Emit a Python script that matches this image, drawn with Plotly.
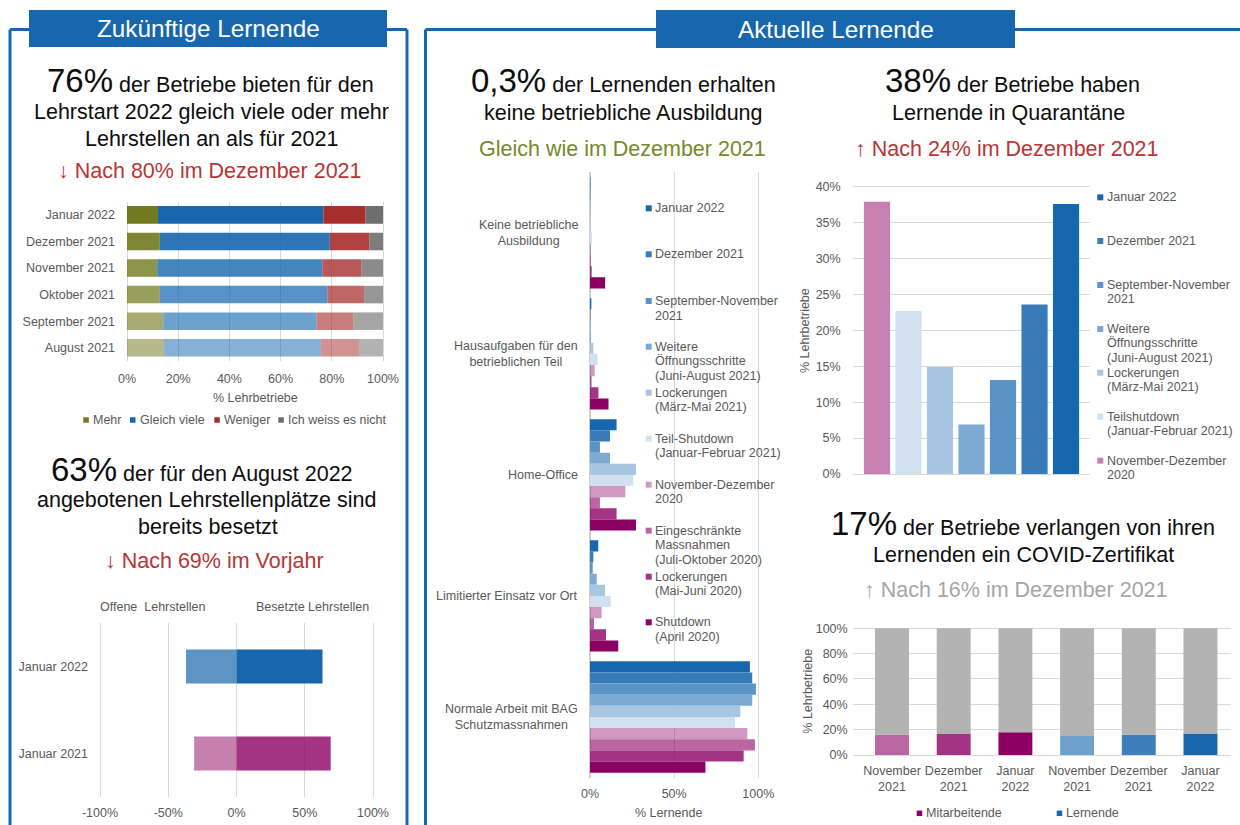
import plotly.graph_objects as go

# ======================= DATA =======================
# Zukünftige Lernende: Lehrstellenangebot 2022 im Vergleich zu 2021 (% Lehrbetriebe)
months1 = ["Januar 2022", "Dezember 2021", "November 2021",
           "Oktober 2021", "September 2021", "August 2021"]
answers1 = ["Mehr", "Gleich viele", "Weniger", "Ich weiss es nicht"]
mehr = [12.1, 12.8, 11.8, 12.8, 14.2, 14.5]
gleich_viele = [64.6, 66.4, 64.5, 65.5, 59.8, 61.2]
weniger = [16.5, 15.5, 15.2, 14.3, 14.5, 14.9]
weiss_nicht = [6.8, 5.3, 8.5, 7.4, 11.5, 9.4]
pct_ticks1 = [0, 20, 40, 60, 80, 100]

# Offene / besetzte Lehrstellen
years2 = ["Januar 2022", "Januar 2021"]
offene = [-37, -31]
besetzte = [63, 69]
pct_ticks2 = [-100, -50, 0, 50, 100]

# Aktuelle Lernende: Situation (% Lernende)
activities3 = ["Keine betriebliche<br>Ausbildung",
               "Hausaufgaben für den<br>betrieblichen Teil",
               "Home-Office",
               "Limitierter Einsatz vor Ort",
               "Normale Arbeit mit BAG<br>Schutzmassnahmen"]
periods3 = ["Januar 2022", "Dezember 2021", "September-November<br>2021",
            "Weitere<br>Öffnungsschritte<br>(Juni-August 2021)",
            "Lockerungen<br>(März-Mai 2021)",
            "Teil-Shutdown<br>(Januar-Februar 2021)",
            "November-Dezember<br>2020",
            "Eingeschränkte<br>Massnahmen<br>(Juli-Oktober 2020)",
            "Lockerungen<br>(Mai-Juni 2020)",
            "Shutdown<br>(April 2020)"]
v_jan22 = [0.3, 0.8, 15.8, 4.9, 95.0]
v_dez21 = [0.3, 0.3, 11.9, 2.0, 96.4]
v_sepnov21 = [0.2, 0.3, 5.9, 1.6, 98.6]
v_weitere21 = [0.2, 0.6, 11.9, 4.0, 96.4]
v_lock21 = [0.3, 2.0, 27.3, 8.9, 89.3]
v_teil21 = [1.2, 4.5, 25.7, 12.3, 86.2]
v_novdez20 = [0.5, 2.8, 21.0, 6.9, 93.5]
v_einge20 = [0.5, 1.0, 5.9, 2.4, 98.0]
v_lock20 = [1.0, 5.0, 15.8, 9.5, 91.3]
v_shutdown20 = [9.0, 11.0, 27.3, 16.8, 68.6]
values3 = [v_jan22, v_dez21, v_sepnov21, v_weitere21, v_lock21,
           v_teil21, v_novdez20, v_einge20, v_lock20, v_shutdown20]
pct_ticks3 = [0, 50, 100]

# Lernende in Quarantäne (% Lehrbetriebe)
periods4 = ["November-Dezember<br>2020", "Teilshutdown<br>(Januar-Februar 2021)",
            "Lockerungen<br>(März-Mai 2021)",
            "Weitere<br>Öffnungsschritte<br>(Juni-August 2021)",
            "September-November<br>2021", "Dezember 2021", "Januar 2022"]
quarantaene = [37.9, 22.7, 14.9, 6.9, 13.1, 23.6, 37.6]
pct_ticks4 = [0, 5, 10, 15, 20, 25, 30, 35, 40]

# COVID-Zertifikat verlangt (% Lehrbetriebe)
cert_months = ["November<br>2021", "Dezember<br>2021", "Januar<br>2022"]
mitarbeitende = [16, 16.5, 18]
lernende = [15, 16, 17]
pct_ticks5 = [0, 20, 40, 60, 80, 100]

# ======================= STYLE =======================
W, H = 1240, 825
FONT = "Liberation Sans, Arial, sans-serif"
TXT = "#595959"
GRID = "#D9D9D9"
BLUE = (23, 103, 174)
MAG = (140, 0, 100)
OLIVE = (112, 122, 30)
RED = (168, 46, 46)
DGRAY = (110, 110, 110)
FRAME = "#1767AE"
REDTXT = "#B83535"
OLIVETXT = "#76892B"
GRAYTXT = "#A6A6A6"


def fx(p):
    return p / W


def fy(p):
    return 1 - p / H


def rgba(c, a=1.0):
    return f"rgba({c[0]},{c[1]},{c[2]},{a})"


def solid(c, a=1.0):
    r, g, b = (round(v * a + 255 * (1 - a)) for v in c)
    return f"#{r:02X}{g:02X}{b:02X}"


def xlin(px0, px1, r0, r1, pad=2.0):
    """domain / range for a linear x axis, padded so edge gridlines are drawn"""
    ppu = (px1 - px0) / (r1 - r0)
    return dict(domain=[fx(px0 - pad), fx(px1 + pad)],
                range=[r0 - pad / ppu, r1 + pad / ppu])


def ylin(px_bottom, px_top, r0, r1, pad=2.0):
    ppu = (px_bottom - px_top) / (r1 - r0)
    return dict(domain=[fy(px_bottom + pad), fy(px_top - pad)],
                range=[r0 - pad / ppu, r1 + pad / ppu])


C1_BASE = [OLIVE, BLUE, RED, DGRAY]
C1_ALPHA = [1.0, 0.9, 0.8, 0.72, 0.62, 0.52]
C3 = [solid(BLUE, a) for a in (1, 0.86, 0.71, 0.56, 0.375, 0.2)] + \
     [rgba(MAG, a) for a in (0.4, 0.6, 0.8, 1.0)]
C4 = [solid(MAG, 0.5)] + [solid(BLUE, a) for a in (0.2, 0.375, 0.56, 0.71, 0.86, 1.0)]
C5_M = [solid(MAG, a) for a in (0.6, 0.8, 1.0)]
C5_L = [solid(BLUE, a) for a in (0.62, 0.84, 1.0)]
REST = "#B3B3B3"

fig = go.Figure()

# ---- Chart 1: stacked horizontal bars ----
base = [0.0] * len(months1)
for name, vals, col in zip(answers1, [mehr, gleich_viele, weniger, weiss_nicht], C1_BASE):
    fig.add_trace(go.Bar(
        y=months1, x=vals, base=list(base), orientation="h", name=name,
        marker=dict(color=[rgba(col, a) for a in C1_ALPHA], line=dict(width=0)),
        width=0.66, offsetgroup="c1", xaxis="x", yaxis="y", showlegend=False))
    base = [b + v for b, v in zip(base, vals)]

# ---- Chart 2: offene / besetzte ----
fig.add_trace(go.Bar(
    y=years2, x=offene, base=0, orientation="h", name="Offene Lehrstellen",
    marker=dict(color=[rgba(BLUE, 0.7), rgba(MAG, 0.5)], line=dict(width=0)),
    width=0.39, offsetgroup="c2", xaxis="x2", yaxis="y2", showlegend=False))
fig.add_trace(go.Bar(
    y=years2, x=besetzte, base=0, orientation="h", name="Besetzte Lehrstellen",
    marker=dict(color=[rgba(BLUE, 1.0), rgba(MAG, 0.8)], line=dict(width=0)),
    width=0.39, offsetgroup="c2", xaxis="x2", yaxis="y2", showlegend=False))

# ---- Chart 3: grouped horizontal bars ----
for name, vals, col in zip(periods3, values3, C3):
    fig.add_trace(go.Bar(
        y=activities3, x=vals, orientation="h", name=name.replace("<br>", " "),
        marker=dict(color=col, line=dict(width=0)),
        xaxis="x3", yaxis="y3", showlegend=False))

# ---- Chart 4: Quarantäne ----
fig.add_trace(go.Bar(
    x=periods4, y=quarantaene, name="Lernende in Quarantäne",
    marker=dict(color=C4, line=dict(width=0)), width=0.83,
    xaxis="x4", yaxis="y4", showlegend=False))

# ---- Chart 5: COVID-Zertifikat ----
xm = list(range(len(mitarbeitende)))
xl = list(range(len(mitarbeitende), len(mitarbeitende) + len(lernende)))
shares = mitarbeitende + lernende
fig.add_trace(go.Bar(
    x=xm, y=mitarbeitende, base=0, name="Mitarbeitende",
    marker=dict(color=C5_M, line=dict(width=0)), width=0.55, offsetgroup="c5",
    xaxis="x5", yaxis="y5", showlegend=False))
fig.add_trace(go.Bar(
    x=xl, y=lernende, base=0, name="Lernende",
    marker=dict(color=C5_L, line=dict(width=0)), width=0.55, offsetgroup="c5",
    xaxis="x5", yaxis="y5", showlegend=False))
fig.add_trace(go.Bar(
    x=xm + xl, y=[100 - s for s in shares], base=shares, name="Nein",
    marker=dict(color=REST, line=dict(width=0)), width=0.55, offsetgroup="c5",
    xaxis="x5", yaxis="y5", showlegend=False))

# ---- Axes ----
tf = dict(size=12.5, color=TXT, family=FONT)
common = dict(showline=False, ticks="", tickfont=tf, gridcolor=GRID, gridwidth=1,
              zeroline=False, fixedrange=True, automargin=False)
zl = dict(zeroline=True, zerolinecolor=GRID, zerolinewidth=1)

fig.update_layout(
    xaxis=dict(common, **zl, **xlin(127, 383, 0, 100), anchor="y",
               tickvals=pct_ticks1, ticktext=[f"{v}%" for v in pct_ticks1],
               showgrid=True, ticklabelstandoff=8),
    yaxis=dict(common, domain=[fy(361), fy(201.6)], anchor="x", type="category",
               range=[len(months1) - 0.5, -0.5], showgrid=False, ticklabelstandoff=9),
    xaxis2=dict(common, **zl, **xlin(100, 373, -100, 100), anchor="y2",
                tickvals=pct_ticks2, ticktext=[f"{v}%" for v in pct_ticks2],
                showgrid=True, ticklabelstandoff=6),
    yaxis2=dict(common, domain=[fy(797), fy(623)], anchor="x2", type="category",
                range=[len(years2) - 0.5, -0.5], showgrid=False, ticklabelstandoff=9),
    xaxis3=dict(common, **xlin(590, 758.3, 0, 100), anchor="y3",
                tickvals=pct_ticks3, ticktext=[f"{v}%" for v in pct_ticks3],
                showgrid=True, ticklabelstandoff=7,
                zeroline=True, zerolinecolor="#CFCFCF", zerolinewidth=2),
    yaxis3=dict(common, domain=[fy(777.5), fy(172.3)], anchor="x3", type="category",
                range=[len(activities3) - 0.5, -0.5], showgrid=False, showticklabels=False),
    xaxis4=dict(common, domain=[fx(852.7), fx(1090)], anchor="y4", type="category",
                range=[-0.77, len(periods4) - 0.24], showgrid=False, showticklabels=False),
    yaxis4=dict(common, **zl, **ylin(474, 186.7, 0, 40), anchor="x4",
                tickvals=pct_ticks4, ticktext=[f"{v}%" for v in pct_ticks4],
                showgrid=True, ticklabelstandoff=11),
    xaxis5=dict(common, domain=[fx(852.7), fx(1230.7)], anchor="y5",
                range=[-0.637, len(shares) - 0.51],
                tickvals=xm + xl, ticktext=cert_months + cert_months,
                showgrid=False, ticklabelstandoff=4),
    yaxis5=dict(common, **zl, **ylin(755, 628.3, 0, 100), anchor="x5",
                tickvals=pct_ticks5, ticktext=[f"{v}%" for v in pct_ticks5],
                showgrid=True, ticklabelstandoff=4),
)

# ---- Annotations & shapes ----
annots = []
shapes = []


def txt(x, y, text, size=21.5, color="#0D0D0D", xanchor="center", yanchor="middle",
        align="center", xref="paper", yref="paper", textangle=0):
    annots.append(dict(
        x=fx(x) if xref == "paper" else x, y=fy(y) if yref == "paper" else y,
        xref=xref, yref=yref, text=text, showarrow=False, xanchor=xanchor,
        yanchor=yanchor, align=align, borderpad=0, textangle=textangle,
        font=dict(size=size, color=color, family=FONT)))


def big(num, rest):
    return f'<span style="font-size:33px">{num}</span> {rest}'


def marker(x, y, color, s=6):
    shapes.append(dict(type="rect", xref="paper", yref="paper",
                       x0=fx(x), x1=fx(x + s), y0=fy(y + s / 2), y1=fy(y - s / 2),
                       fillcolor=color, line=dict(width=0), layer="above"))


def legend_entry(mx, tx, y, label, color, lh=14.7):
    marker(mx, y, color)
    for k, line in enumerate(label.split("<br>")):
        txt(tx, y + k * lh, line, size=12.5, color=TXT, xanchor="left")


# frames
for (x0, y0, x1, y1) in [(10, 825, 10, 29.5), (10, 29.5, 407, 29.5), (407, 29.5, 407, 825),
                         (425.5, 825, 425.5, 29.5), (425.5, 29.5, 1240, 29.5)]:
    shapes.append(dict(type="line", xref="paper", yref="paper", x0=fx(x0), y0=fy(y0),
                       x1=fx(x1), y1=fy(y1), line=dict(color=FRAME, width=3), layer="below"))
# header boxes
for (x0, x1, y0, y1) in [(29, 387, 10, 47), (656, 1015, 10, 48)]:
    shapes.append(dict(type="rect", xref="paper", yref="paper", x0=fx(x0), x1=fx(x1),
                       y0=fy(y1), y1=fy(y0), fillcolor=FRAME, line=dict(width=0), layer="above"))
txt(208, 28.5, "Zukünftige Lernende", size=24.3, color="white")
txt(835.5, 29, "Aktuelle Lernende", size=24.3, color="white")

# headline texts
txt(210.5, 80.6, big("76%", "der Betriebe bieten für den"))
txt(211.5, 112, "Lehrstart 2022 gleich viele oder mehr")
txt(211, 139.2, "Lehrstellen an als für 2021")
txt(210, 170.8, "↓ Nach 80% im Dezember 2021", color=REDTXT)

txt(202, 469.6, big("63%", "der für den August 2022"))
txt(206.5, 500, "angebotenen Lehrstellenplätze sind")
txt(208, 527, "bereits besetzt")
txt(214, 561, "↓ Nach 69% im Vorjahr", color=REDTXT)

txt(623, 80.3, big("0,3%", "der Lernenden erhalten"))
txt(623, 113.2, "keine betriebliche Ausbildung")
txt(622, 149.2, "Gleich wie im Dezember 2021", color=OLIVETXT)

txt(1012, 80.3, big("38%", "der Betriebe haben"))
txt(1008, 113.2, "Lernende in Quarantäne")
txt(1007, 149.2, "↑ Nach 24% im Dezember 2021", color=REDTXT)

txt(1023, 523.6, big("17%", "der Betriebe verlangen von ihren"))
txt(1023, 555, "Lernenden ein COVID-Zertifikat")
txt(1016, 590, "↑ Nach 16% im Dezember 2021", color=GRAYTXT)

# chart 1 axis title + legend
txt(255, 398, "% Lehrbetriebe", size=12.5, color=TXT)
for (mx, tx), name, col in zip([(83.3, 91.7), (130, 139), (214.3, 222.7), (278.3, 286.7)],
                               answers1, C1_BASE):
    marker(mx, 420, rgba(col), s=5.5)
    txt(tx, 420, name, size=12.5, color=TXT, xanchor="left")

# chart 2 headers
txt(152.5, 606.7, "Offene\u00a0 Lehrstellen", size=12.5, color=TXT)
txt(312.5, 606.7, "Besetzte Lehrstellen", size=12.5, color=TXT)

# chart 3 category labels + axis title + legend
for i, lab in enumerate(activities3):
    txt(578.5, i, lab, size=12.5, color=TXT, xanchor="right", align="center", yref="y3")
txt(668, 813.3, "% Lernende", size=12.5, color=TXT)
legend_y3 = [208.3, 254.3, 301, 346.7, 392.7, 438.7, 484.7, 530.7, 576.7, 622.3]
for y, lab, col in zip(legend_y3, periods3, C3):
    legend_entry(645.7, 654.3, y, lab, col)

# chart 4 axis title + legend (reverse order)
txt(805, 331, "% Lehrbetriebe", size=12.5, color=TXT, textangle=-90)
legend_y4 = [197.3, 241, 285, 329, 372.7, 416.7, 460.7]
for y, lab, col in zip(legend_y4, periods4[::-1], C4[::-1]):
    legend_entry(1097.3, 1106, y, lab, col, lh=14.4)

# chart 5 axis title + legend
txt(808, 691.7, "% Lehrbetriebe", size=12.5, color=TXT, textangle=-90)
marker(916.7, 813.3, solid(MAG), s=5.5)
txt(925, 813.3, "Mitarbeitende", size=12.5, color=TXT, xanchor="left")
marker(1056.7, 813.3, solid(BLUE), s=5.5)
txt(1065, 813.3, "Lernende", size=12.5, color=TXT, xanchor="left")

fig.update_layout(
    width=W, height=H, margin=dict(l=0, r=0, t=0, b=0, pad=0, autoexpand=False),
    paper_bgcolor="white", plot_bgcolor="rgba(0,0,0,0)",
    barmode="group", bargap=0.08, bargroupgap=0,
    font=dict(family=FONT, color=TXT),
    annotations=annots, shapes=shapes, showlegend=False,
)

fig.write_html("out.html", config={"displayModeBar": False, "staticPlot": True},
               post_script="document.body.style.margin='0';document.body.style.overflow='hidden';")
